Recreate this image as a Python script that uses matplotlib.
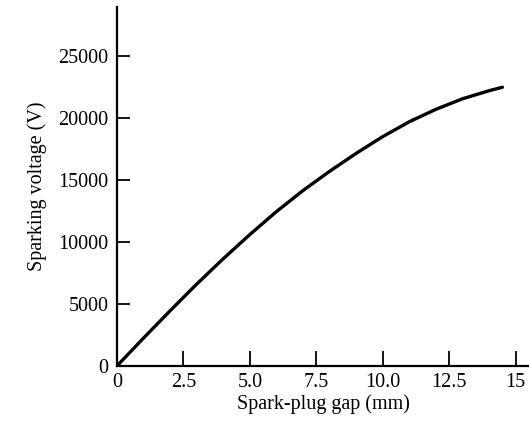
import matplotlib
matplotlib.use('Agg')
import matplotlib.pyplot as plt

# spark-plug gap (mm) vs sparking voltage (V)
gap_mm = [0, 1, 2, 3, 4, 5, 6, 7, 8, 9, 10, 11, 12, 13, 14, 14.5]
voltage = [0, 2250, 4450, 6600, 8650, 10600, 12450, 14150, 15700, 17150,
           18500, 19700, 20700, 21550, 22200, 22480]

xticks = [0, 2.5, 5.0, 7.5, 10.0, 12.5, 15]
xtick_labels = ['0', '2.5', '5.0', '7.5', '10.0', '12.5', '15']
yticks = [0, 5000, 10000, 15000, 20000, 25000]

matplotlib.rcParams.update({'font.family': 'Liberation Serif', 'font.size': 14.5})

fig = plt.figure(figsize=(5.29, 4.22), dpi=100)
ax = fig.add_axes([0.221, 0.1327, 0.779, 0.8507])

ax.plot(gap_mm, voltage, color='black', lw=2.4, solid_joinstyle='round',
        solid_capstyle='round')

ax.set_xlim(0, 15.5)
ax.set_ylim(0, 28950)
ax.set_xticks(xticks)
ax.set_xticklabels(xtick_labels)
ax.set_yticks(yticks)

for s in ['top', 'right']:
    ax.spines[s].set_visible(False)
for s in ['left', 'bottom']:
    ax.spines[s].set_linewidth(1.6)

ax.tick_params(axis='x', direction='in', length=11, width=1.3, pad=5)
ax.tick_params(axis='y', direction='in', length=9, width=1.3, pad=6)

ax.set_xlabel('Spark-plug gap (mm)', labelpad=2)
ax.set_ylabel('Sparking voltage (V)', labelpad=8)

fig.savefig('out.png', dpi=100)
